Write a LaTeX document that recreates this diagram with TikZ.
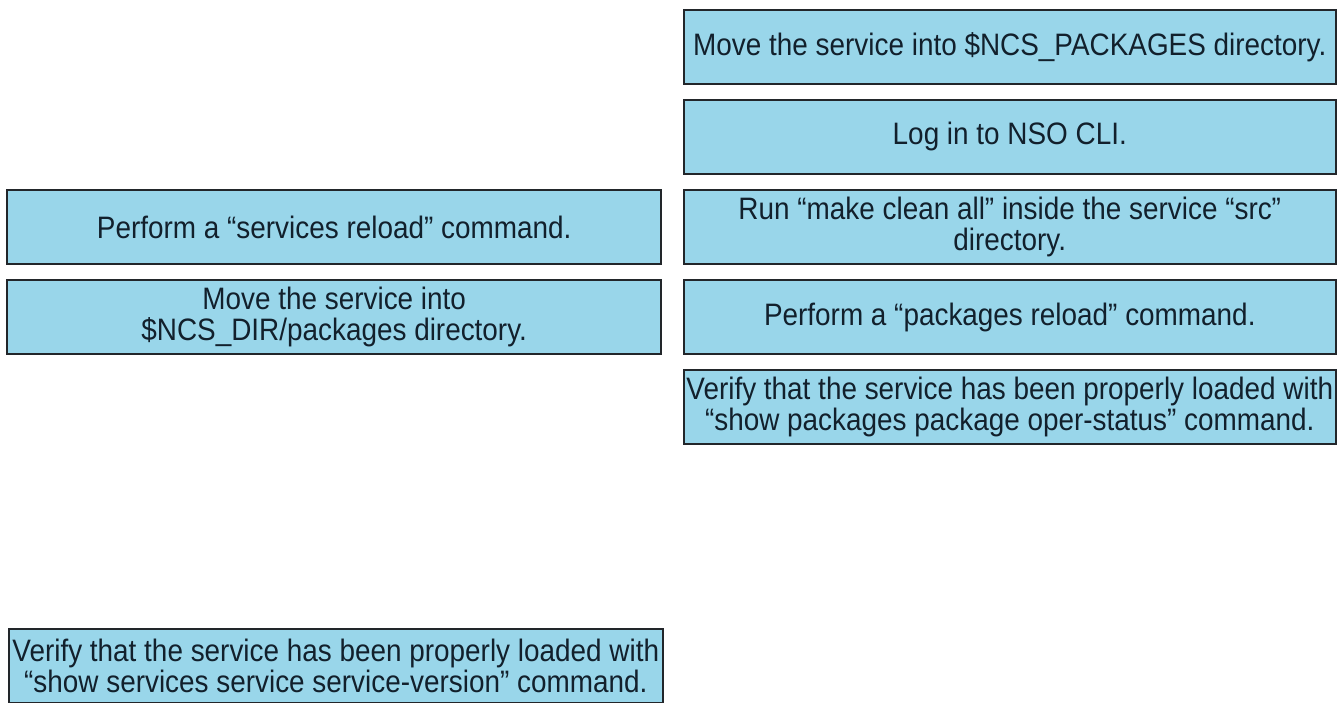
\documentclass[tikz,border=0pt]{standalone}
\usepackage{fontspec}
\setmainfont[FakeStretch=0.9]{Liberation Sans}
\usetikzlibrary{positioning, chains}
\definecolor{cardblue}{RGB}{153,214,234}
\definecolor{cardline}{RGB}{34,38,42}
\definecolor{cardtext}{RGB}{18,32,44}

\begin{document}
\begin{tikzpicture}[x=1pt, y=-1pt, start chain=1 going below, node distance=14.5pt,
		card/.style={draw=cardline, line width=1.6pt, fill=cardblue, text=cardtext, minimum width=652pt, minimum height=74pt, inner sep=0pt, align=center, font=\fontsize{31}{30.5}\selectfont}]
			\useasboundingbox (0,0) rectangle (1343,702);
			% steps to pick from
			\node[card, on chain=1, anchor=north west] (r1) at (683,9) {Move the service into \$NCS\_PACKAGES directory.};
			\node[card, on chain=1] (r2) {Log in to NSO CLI.};
			\node[card, on chain=1] (r3) {Run “make clean all” inside the service “src”\\ directory.};
			\node[card, on chain=1] (r4) {Perform a “packages reload” command.};
			\node[card, on chain=1] (r5) {Verify that the service has been properly loaded with\\ “show packages package oper-status” command.};
			% steps already placed
			\node[card, minimum width=654pt, left=21pt of r3] (l1) {Perform a “services reload” command.};
			\node[card, minimum width=654pt, below=of l1] (l2) {Move the service into\\ \$NCS\_DIR/packages directory.};
			\node[card, minimum width=654pt, anchor=north west] (l3) at (8,628) {Verify that the service has been properly loaded with\\ “show services service service-version” command.};
		\end{tikzpicture}
\end{document}
